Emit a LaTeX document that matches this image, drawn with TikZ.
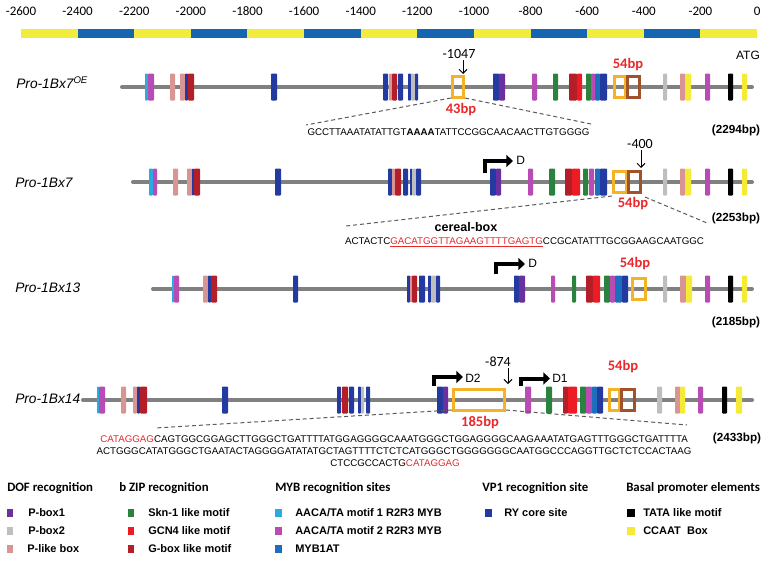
\documentclass[tikz,border=0pt]{standalone}
\usepackage{fontspec}
\setmainfont{Liberation Sans}
\newfontfamily\calfont{Carlito}
\usetikzlibrary{arrows.meta}
\definecolor{sbyellow}{RGB}{242,236,60}
\definecolor{sbblue}{RGB}{21,101,176}
\definecolor{pbone}{RGB}{106,48,160}
\definecolor{pbtwo}{RGB}{190,190,190}
\definecolor{plike}{RGB}{217,149,148}
\definecolor{skn}{RGB}{42,130,62}
\definecolor{gcn}{RGB}{237,28,36}
\definecolor{gbox}{RGB}{180,30,40}
\definecolor{aacaone}{RGB}{41,171,226}
\definecolor{aacatwo}{RGB}{185,75,180}
\definecolor{mybat}{RGB}{30,110,190}
\definecolor{ry}{RGB}{35,58,160}
\definecolor{tata}{RGB}{0,0,0}
\definecolor{ccaat}{RGB}{245,235,55}
\definecolor{obox}{RGB}{243,178,40}
\definecolor{bbox}{RGB}{160,82,45}
\definecolor{lgray}{RGB}{128,128,128}
\definecolor{seqred}{RGB}{232,40,43}
\definecolor{dgray}{RGB}{90,90,90}
\newcommand{\mtf}[4]{\fill[#4,rounded corners=0.6pt] (#1,#3-13.5) rectangle (#2,#3+13.5);}
\newcommand{\hbx}[4]{\draw[#4,line width=2.2pt] (#1+1.5,#3-10.5) rectangle (#2-1.5,#3+10.5);}
\tikzset{
  seq/.style={font=\fontsize{7.3}{8.5}\selectfont, inner sep=0pt},
  rowlab/.style={font=\fontsize{10.3}{12}\selectfont\itshape, inner sep=0pt, anchor=base west},
  total/.style={font=\fontsize{8.8}{10}\selectfont\bfseries, inner sep=0pt},
  bplab/.style={font=\calfont\fontsize{10.9}{12}\selectfont\bfseries, text=seqred, inner sep=0pt},
  poslab/.style={font=\calfont\fontsize{10.5}{12}\selectfont, inner sep=0pt},
  dlab/.style={font=\fontsize{9}{10}\selectfont, inner sep=0pt, anchor=west},
  tline/.style={lgray, line width=3pt, line cap=round},
  dashline/.style={dgray, line width=0.75pt, dash pattern=on 3pt off 2.2pt},
  bent/.style={line width=3pt, -{Triangle[length=5pt,width=9pt]}},
  thinarr/.style={line width=0.75pt, -{Straight Barb[length=3pt,width=6pt]}},
  head/.style={font=\calfont\fontsize{9.6}{11}\selectfont\bfseries, anchor=west, inner sep=0pt},
  item/.style={font=\fontsize{8.25}{10}\selectfont\bfseries, anchor=west, inner sep=0pt},
  scalelab/.style={font=\calfont\fontsize{9.75}{11}\selectfont, inner sep=0pt}
}
\begin{document}
\begin{tikzpicture}[x=0.75pt,y=-0.75pt]
\useasboundingbox (0,0) rectangle (770,561);
% scale bar
\foreach \i in {0,...,12}{
  \pgfmathtruncatemacro\pp{mod(\i,2)}
  \ifnum\pp=0 \def\cc{sbyellow}\else\def\cc{sbblue}\fi
  \fill[\cc] ({21+56.62*\i},29) rectangle ({21+56.62*(\i+1)},38);
}
\foreach \i in {0,...,13}{
  \pgfmathtruncatemacro\lab{-2600+200*\i}
  \node[scalelab] (sl\i) at ({21+56.62*\i},11) {\lab};
}
\node[font=\fontsize{9}{10}\selectfont, inner sep=0pt] (atg) at (748,55) {ATG};

% ===== Row 1 =====
\node[rowlab] (r1) at (16,88) {Pro-1Bx7\textsuperscript{OE}};
\coordinate (l1s) at (122,87); \coordinate (l1e) at (752,87);
\draw[tline] (l1s) -- (l1e);
\mtf{145}{148}{87}{aacaone}\mtf{148}{154}{87}{aacatwo}
\mtf{170}{175}{87}{plike}
\mtf{180}{185}{87}{plike}\mtf{185}{188}{87}{ry}\mtf{188}{194}{87}{gbox}
\mtf{271}{277}{87}{ry}
\mtf{383}{388}{87}{ry}\mtf{389}{392}{87}{plike}\mtf{392}{397}{87}{gbox}\mtf{398}{403}{87}{ry}
\mtf{408}{411}{87}{ry}\mtf{411}{415}{87}{pbtwo}\mtf{415}{418}{87}{ry}
\hbx{451}{465}{87}{obox}
\mtf{493}{499}{87}{ry}\mtf{499}{505}{87}{pbone}
\mtf{532}{537}{87}{aacatwo}
\mtf{553}{558}{87}{skn}
\mtf{569}{577}{87}{gbox}\mtf{577}{582}{87}{gcn}
\mtf{586}{591}{87}{skn}\mtf{591}{595}{87}{aacatwo}\mtf{595}{600}{87}{mybat}\mtf{600}{607}{87}{ry}
\hbx{613}{627}{87}{obox}\hbx{626}{641}{87}{bbox}
\mtf{663}{667}{87}{pbtwo}
\mtf{680}{685}{87}{plike}\mtf{685}{691}{87}{ccaat}
\mtf{705}{710}{87}{aacatwo}
\mtf{728}{733}{87}{tata}
\mtf{742}{747}{87}{ccaat}
\node[poslab] (p1047) at (459,54) {-1047};
\coordinate (a1s) at (463,60); \coordinate (a1e) at (463,74);
\draw[thinarr] (a1s) -- (a1e);
\node[bplab] (bp43) at (461,110) {43bp};
\node[bplab] (bp54a) at (628,65) {54bp};
\node[seq, anchor=base] (s1) at (448.5,135.5) {GCCTTAAATATATTGT\textbf{AAAA}TATTCCGGCAACAACTTGTGGGG};
\coordinate (b1l) at (451,98); \coordinate (b1r) at (465,98);
\coordinate (d1l) at (306,125); \coordinate (d1r) at (591,124);
\draw[dashline] (b1l) -- (d1l);
\draw[dashline] (b1r) -- (d1r);
\node[total] (t1) at (736,130) {(2294bp)};

% ===== Row 2 =====
\node[rowlab] (r2) at (15,187) {Pro-1Bx7};
\coordinate (l2s) at (133,182); \coordinate (l2e) at (752,182);
\draw[tline] (l2s) -- (l2e);
\mtf{149}{153}{182}{aacaone}\mtf{153}{157}{182}{aacatwo}
\mtf{173}{178}{182}{plike}
\mtf{187}{192}{182}{plike}\mtf{192}{194}{182}{ry}\mtf{194}{200}{182}{gbox}
\mtf{275}{281}{182}{ry}
\mtf{388}{392}{182}{ry}\mtf{392}{395}{182}{plike}\mtf{395}{401}{182}{gbox}\mtf{403}{408}{182}{ry}
\mtf{410}{412}{182}{ry}\mtf{412}{416}{182}{pbtwo}\mtf{416}{421}{182}{ry}
\mtf{490}{496}{182}{ry}\mtf{496}{501}{182}{pbone}
\mtf{528}{533}{182}{aacatwo}
\mtf{549}{555}{182}{skn}
\mtf{565}{572}{182}{gbox}\mtf{572}{580}{182}{gcn}
\mtf{583}{588}{182}{skn}\mtf{589}{594}{182}{aacatwo}\mtf{595}{600}{182}{mybat}\mtf{600}{607}{182}{ry}
\hbx{612}{628}{182}{obox}\hbx{627}{642}{182}{bbox}
\mtf{663}{667}{182}{pbtwo}
\mtf{680}{685}{182}{plike}\mtf{685}{691}{182}{ccaat}
\mtf{705}{710}{182}{aacatwo}
\mtf{728}{733}{182}{tata}
\mtf{742}{747}{182}{ccaat}
\coordinate (bd1) at (484.5,173); \coordinate (bd1e) at (513,161);
\draw[bent] (bd1) |- (bd1e);
\node[dlab] (dD) at (516,160) {D};
\node[poslab] (p400) at (640,144) {-400};
\coordinate (a2s) at (641,150); \coordinate (a2e) at (641,168);
\draw[thinarr] (a2s) -- (a2e);
\node[bplab] (bp54b) at (633,204) {54bp};
\node[font=\fontsize{9.4}{11}\selectfont\bfseries, inner sep=0pt] (cb) at (466,227) {cereal-box};
\node[seq, anchor=base] (s2) at (524.5,244.5) {ACTACTC\textcolor{seqred}{\underline{GACATGGTTAGAAGTTTTGAGTG}}CCGCATATTTGCGGAAGCAATGGC};
\coordinate (b2l) at (612,196); \coordinate (b2r) at (645,197);
\coordinate (d2l) at (346,226); \coordinate (d2r) at (707,223);
\draw[dashline] (b2l) -- (d2l);
\draw[dashline] (b2r) -- (d2r);
\node[total] (t2) at (736,218) {(2253bp)};

% ===== Row 3 =====
\node[rowlab] (r3) at (15,292) {Pro-1Bx13};
\coordinate (l3s) at (153,289); \coordinate (l3e) at (752,289);
\draw[tline] (l3s) -- (l3e);
\mtf{172}{174}{289}{aacaone}\mtf{174}{179}{289}{aacatwo}
\mtf{203}{208}{289}{plike}\mtf{208}{211}{289}{ry}\mtf{211}{217}{289}{gbox}
\mtf{293}{298}{289}{ry}
\mtf{407}{410}{289}{ry}\mtf{410}{412}{289}{plike}\mtf{412}{417}{289}{gbox}\mtf{419}{425}{289}{ry}
\mtf{428}{431}{289}{ry}\mtf{431}{436}{289}{pbtwo}\mtf{436}{440}{289}{ry}
\mtf{514}{519}{289}{ry}\mtf{519}{525}{289}{pbone}
\mtf{551}{555}{289}{aacatwo}
\mtf{572}{576}{289}{skn}
\mtf{586}{593}{289}{gbox}\mtf{593}{600}{289}{gcn}
\mtf{604}{610}{289}{skn}\mtf{610}{615}{289}{aacatwo}\mtf{615}{622}{289}{mybat}\mtf{622}{628}{289}{ry}
\hbx{631}{647}{289}{obox}
\mtf{663}{667}{289}{pbtwo}
\mtf{680}{686}{289}{plike}\mtf{686}{692}{289}{ccaat}
\mtf{705}{710}{289}{aacatwo}
\mtf{728}{733}{289}{tata}
\mtf{742}{747}{289}{ccaat}
\coordinate (bd2) at (495.5,274); \coordinate (bd2e) at (525,264);
\draw[bent] (bd2) |- (bd2e);
\node[dlab] (dD3) at (528,263) {D};
\node[bplab] (bp54c) at (635,264) {54bp};
\node[total] (t3) at (736,322) {(2185bp)};

% ===== Row 4 =====
\node[rowlab] (r4) at (15,403) {Pro-1Bx14};
\coordinate (l4s) at (83,400); \coordinate (l4e) at (752,400);
\draw[tline] (l4s) -- (l4e);
\mtf{97}{99}{400}{aacaone}\mtf{99}{105}{400}{aacatwo}
\mtf{121}{126}{400}{plike}
\mtf{133}{137}{400}{plike}\mtf{137}{140}{400}{ry}\mtf{140}{147}{400}{gbox}
\mtf{222}{228}{400}{ry}
\mtf{337}{341}{400}{ry}\mtf{342}{348}{400}{gbox}\mtf{349}{354}{400}{ry}
\mtf{358}{361}{400}{ry}\mtf{361}{364}{400}{pbtwo}\mtf{366}{370}{400}{ry}
\mtf{437}{443}{400}{ry}\mtf{443}{448}{400}{pbone}
\hbx{452}{506}{400}{obox}
\mtf{525}{531}{400}{aacatwo}
\mtf{546}{552}{400}{skn}
\mtf{563}{568}{400}{gbox}\mtf{568}{577}{400}{gcn}
\mtf{580}{586}{400}{skn}\mtf{586}{592}{400}{aacatwo}\mtf{592}{597}{400}{mybat}\mtf{597}{603}{400}{ry}
\hbx{608}{621}{400}{obox}\hbx{620}{636}{400}{bbox}
\mtf{657}{662}{400}{pbtwo}
\mtf{675}{680}{400}{plike}\mtf{680}{685}{400}{ccaat}
\mtf{698}{703}{400}{aacatwo}
\mtf{722}{727}{400}{tata}
\mtf{736}{742}{400}{ccaat}
\coordinate (bd3) at (434,386); \coordinate (bd3e) at (463,377);
\draw[bent] (bd3) |- (bd3e);
\node[dlab] (dD2) at (465,378) {D2};
\coordinate (bd4) at (520.5,386); \coordinate (bd4e) at (550,378.5);
\draw[bent] (bd4) |- (bd4e);
\node[dlab] (dD1) at (552,378) {D1};
\node[poslab] (p874) at (498,362) {-874};
\coordinate (a4s) at (508,368); \coordinate (a4e) at (508,384);
\draw[thinarr] (a4s) -- (a4e);
\node[bplab] (bp54d) at (623,367) {54bp};
\node[bplab] (bp185) at (480,423) {185bp};
\node[seq, anchor=base] (s4a) at (394,442) {\textcolor{seqred}{CATAGGAG}CAGTGGCGGAGCTTGGGCTGATTTTATGGAGGGGCAAATGGGCTGGAGGGGCAAGAAATATGAGTTTGGGCTGATTTTA};
\node[seq, anchor=base] (s4b) at (394,454) {ACTGGGCATATGGGCTGAATACTAGGGGATATATGCTAGTTTTCTCTCATGGGCTGGGGGGGCAATGGCCCAGGTTGCTCTCCACTAAG};
\node[seq, anchor=base] (s4c) at (395,466) {CTCCGCCACTG\textcolor{seqred}{CATAGGAG}};
\coordinate (b4l) at (452,410); \coordinate (b4r) at (506,410);
\coordinate (d4l) at (155,428); \coordinate (d4r) at (687,425);
\draw[dashline] (b4l) -- (d4l);
\draw[dashline] (b4r) -- (d4r);
\node[total] (t4) at (737,438) {(2433bp)};

% ===== Legend =====
\node[head] (h1) at (7,488) {DOF recognition};
\node[head] (h2) at (119,488) {b ZIP recognition};
\node[head] (h3) at (275,488) {MYB recognition sites};
\node[head] (h4) at (482,488) {VP1 recognition site};
\node[head] (h5) at (626,488) {Basal promoter elements};
\fill[pbone] (7,509) rectangle (13,517); \node[item] (i11) at (28,513) {P-box1};
\fill[pbtwo] (7,527) rectangle (13,535); \node[item] (i12) at (28,531) {P-box2};
\fill[plike] (7,545) rectangle (13,553); \node[item] (i13) at (27,549) {P-like box};
\fill[skn] (128,509) rectangle (134,517); \node[item] (i21) at (148,513) {Skn-1 like motif};
\fill[gcn] (128,527) rectangle (134,535); \node[item] (i22) at (148,531) {GCN4 like motif};
\fill[gbox] (128,545) rectangle (134,553); \node[item] (i23) at (148,549) {G-box like motif};
\fill[aacaone] (275,509) rectangle (282,517); \node[item] (i31) at (295,513) {AACA/TA motif 1 R2R3 MYB};
\fill[aacatwo] (275,527) rectangle (282,535); \node[item] (i32) at (295,531) {AACA/TA motif 2 R2R3 MYB};
\fill[mybat] (275,545) rectangle (282,553); \node[item] (i33) at (295,549) {MYB1AT};
\fill[ry] (485,509) rectangle (492,517); \node[item] (i41) at (504,513) {RY core site};
\fill[black] (627,509) rectangle (635,517); \node[item] (i51) at (643,513) {TATA like motif};
\fill[ccaat] (627,527) rectangle (635,535); \node[item] (i52) at (643,531) {CCAAT\ \ Box};
\end{tikzpicture}
\end{document}
